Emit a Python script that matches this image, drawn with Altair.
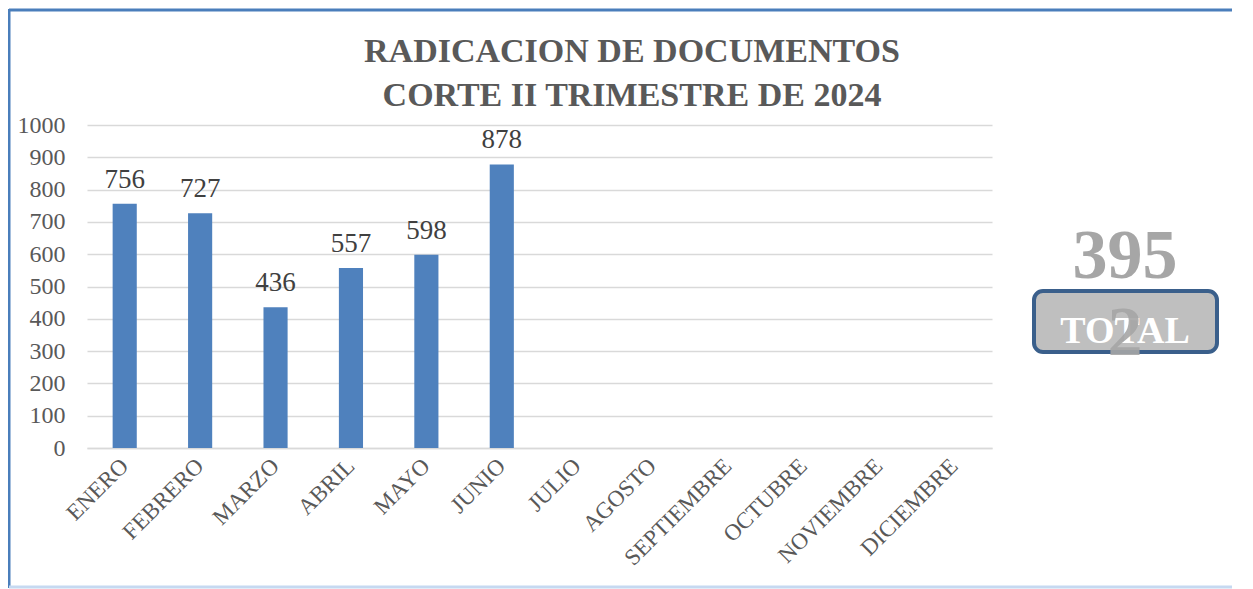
import altair as alt
import pandas as pd

months = ["ENERO", "FEBRERO", "MARZO", "ABRIL", "MAYO", "JUNIO", "JULIO",
          "AGOSTO", "SEPTIEMBRE", "OCTUBRE", "NOVIEMBRE", "DICIEMBRE"]
values = [756, 727, 436, 557, 598, 878, None, None, None, None, None, None]
y_ticks = [0, 100, 200, 300, 400, 500, 600, 700, 800, 900, 1000]
title_lines = ["RADICACION DE DOCUMENTOS", "CORTE II TRIMESTRE DE 2024"]
total_label = "TOTAL"
total_value = "3952"

df = pd.DataFrame({"mes": months, "valor": values})
deco = pd.DataFrame({"a": [0]})

FONT = "Liberation Serif"
W, H = 905, 323

x = alt.X("mes:N", sort=months, title=None,
          scale=alt.Scale(paddingInner=0.68, paddingOuter=0.34),
          axis=alt.Axis(labelAngle=-45, labelAlign="right", labelBaseline="middle",
                        labelFont=FONT, labelFontSize=23, labelColor="#595959",
                        labelPadding=14, ticks=False, domainColor="#D9D9D9",
                        domainWidth=1.5, labelOverlap=False))
y = alt.Y("valor:Q", title=None,
          scale=alt.Scale(domain=[0, 1000], nice=False),
          axis=alt.Axis(values=y_ticks, format="d", labelFont=FONT,
                        labelFontSize=24, labelColor="#595959", labelPadding=22,
                        labelOverlap=False,
                        ticks=False, domain=False, gridColor="#D9D9D9", gridWidth=1.5))

base = alt.Chart(df)
bars = base.mark_bar(color="#4F81BD").encode(x=x, y=y)
labels = base.mark_text(font=FONT, fontSize=27, color="#404040", dy=-16,
                        baseline="alphabetic").encode(
    x=x, y=y, text=alt.Text("valor:Q"))

d = alt.Chart(deco)
frame_top = d.mark_rule(color="#4A7EBB", strokeWidth=3).encode(
    x=alt.value(-78), x2=alt.value(1200), y=alt.value(-115))
frame_left = d.mark_rule(color="#4A7EBB", strokeWidth=3).encode(
    x=alt.value(-78), y=alt.value(-116), y2=alt.value(463))
frame_bottom = d.mark_rule(color="#C6D9F1", strokeWidth=3).encode(
    x=alt.value(-78), x2=alt.value(1200), y=alt.value(462))

t1 = d.mark_text(font=FONT, fontSize=34, fontWeight="bold", color="#595959",
                 baseline="alphabetic").encode(
    x=alt.value(545), y=alt.value(-63), text=alt.value(title_lines[0]))
t2 = d.mark_text(font=FONT, fontSize=34, fontWeight="bold", color="#595959",
                 baseline="alphabetic").encode(
    x=alt.value(545), y=alt.value(-19), text=alt.value(title_lines[1]))

box = d.mark_rect(fill="#BFBFBF", stroke="#3A5F8B", strokeWidth=4, cornerRadius=9).encode(
    x=alt.value(947), x2=alt.value(1130), y=alt.value(166), y2=alt.value(227))
total_txt = d.mark_text(font=FONT, fontSize=38, fontWeight="bold", color="white",
                        baseline="alphabetic").encode(
    x=alt.value(1038), y=alt.value(218), text=alt.value(total_label))
num1 = d.mark_text(font=FONT, fontSize=70, fontWeight="bold", color="#A6A6A6",
                   baseline="alphabetic").encode(
    x=alt.value(1038), y=alt.value(153), text=alt.value(total_value[:3]))
num2 = d.mark_text(font=FONT, fontSize=70, fontWeight="bold", color="#A6A6A6",
                   baseline="alphabetic", opacity=0.9).encode(
    x=alt.value(1038), y=alt.value(230), text=alt.value(total_value[3:]))

chart = alt.layer(bars, labels, frame_top, frame_left, frame_bottom, t1, t2,
                  box, total_txt, num1, num2).properties(
    width=W, height=H,
    autosize=alt.AutoSizeParams(type="none"),
    padding={"left": 79, "top": 117, "right": 240, "bottom": 141},
).configure_view(stroke=None)

chart.save("out.html", embed_options={"renderer": "svg", "actions": False})
